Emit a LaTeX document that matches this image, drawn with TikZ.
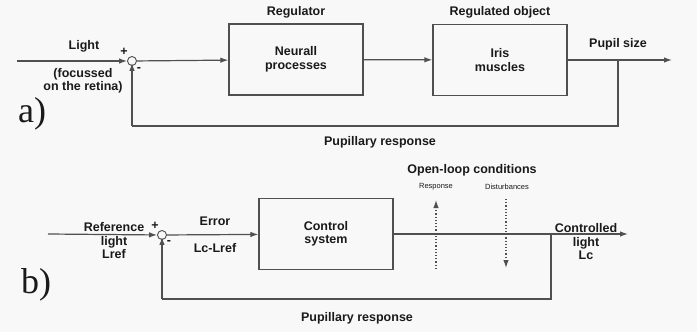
\documentclass[tikz,border=0pt]{standalone}
\usepackage{fontspec}
\setmainfont{Liberation Sans}
\newfontfamily\panelfont{Liberation Serif}
\usetikzlibrary{arrows.meta}
\definecolor{linegray}{HTML}{505050}
\definecolor{txtgray}{HTML}{1A1A1A}
\definecolor{bggray}{HTML}{F8F8F8}

\begin{document}
\begin{tikzpicture}[x=1pt, y=-1pt, line width=1.2pt, linegray,
    >={Latex[length=8pt, width=5.5pt]},
    font=\fontsize{12.5}{13.5}\selectfont\bfseries,
    every node/.style={text=txtgray, align=center},
    blk/.style={draw=linegray, rectangle, minimum width=134pt, minimum height=71pt},
    sum/.style={draw=linegray, circle, inner sep=0pt, minimum size=9pt, line width=0.9pt},
    small/.style={font=\fontsize{7.5}{9}\selectfont},
    panel/.style={font=\fontsize{36}{36}\panelfont}]
  \fill[bggray] (0,0) rectangle (697,332);
  \useasboundingbox (0,0) rectangle (697,332);

  % a) pupil loop
  \node[sum] (S1) at (132,61) {};
  \node[blk] (A1) at (296,59.5) {Neurall\\processes};
  \node[blk] (A2) at (500,60) {Iris\\muscles};
  \coordinate (I1) at (17,61);
  \coordinate (O1) at (672,60);
  \coordinate (B1) at (618,60);
  \coordinate (C1) at (618,126);
  \coordinate (D1) at (132,126);

  \node at (296,12) {Regulator};
  \node at (500,12) {Regulated object};
  \node at (84,46) {Light};
  \node at (83,81) {(focussed\\on the retina)};
  \node at (618,44) {Pupil size};
  \node at (380,142) {Pupillary response};
  \node at (124,52) {+};
  \node at (139,70) {-};
  \node[panel] at (32,114) {a)};

  \draw[->] (I1) -- (S1);
  \draw[->] (S1) -- (A1);
  \draw[->] (A1) -- (A2);
  \draw[->] (A2) -- (O1);
  \draw (B1) -- (C1) -- (D1);
  \draw[->] (D1) -- ([yshift=3pt]S1.south);

  % b) open-loop conditions
  \node[sum] (S2) at (162,235) {};
  \node[blk] (K1) at (326,234) {Control\\system};
  \coordinate (I2) at (48,234);
  \coordinate (O2) at (628,234);
  \coordinate (B2) at (551,234);
  \coordinate (C2) at (551,299);
  \coordinate (D2) at (162,299);
  \coordinate (R1) at (436,269);
  \coordinate (R2) at (436,200);
  \coordinate (T1) at (506,199);
  \coordinate (T2) at (506,268);

  \node at (114,241) {Reference\\light\\Lref};
  \node at (215,221) {Error};
  \node at (215,248) {Lc-Lref};
  \node at (586,242) {Controlled\\light\\Lc};
  \node at (472,170) {Open-loop conditions};
  \node[small] at (436,187) {Response};
  \node[small] at (507,187) {Disturbances};
  \node at (357,318) {Pupillary response};
  \node at (155,226) {+};
  \node at (169,243) {-};
  \node[panel] at (36,285) {b)};

  \draw[->] (I2) -- (S2);
  \draw[->] (S2) -- (K1);
  \draw[->] (K1) -- (O2);
  \draw (B2) -- (C2) -- (D2);
  \draw[->] (D2) -- ([yshift=3pt]S2.south);
  \draw[->, dotted] (R1) -- (R2);
  \draw[->, dotted] (T1) -- (T2);
\end{tikzpicture}
\end{document}
